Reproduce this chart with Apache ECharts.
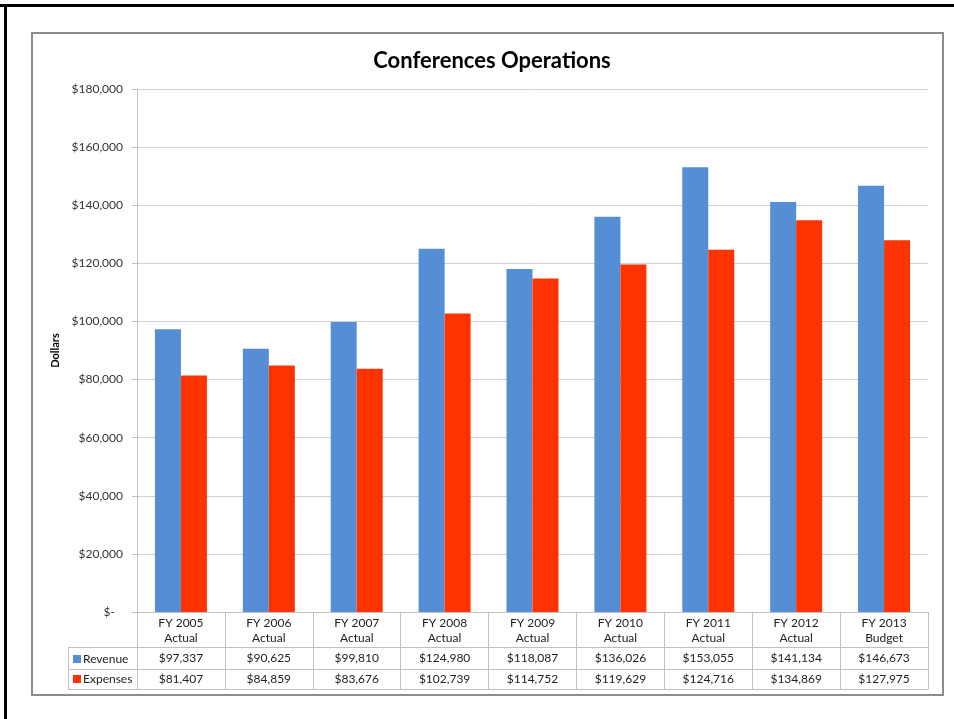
<!DOCTYPE html>
<html>
<head>
<meta charset="utf-8">
<script src="https://cdn.jsdelivr.net/npm/echarts@6/dist/echarts.min.js"></script>
<style>
  html, body { margin: 0; padding: 0; background: #fff; }
  #chart { width: 954px; height: 719px; }
</style>
</head>
<body>
<div id="chart"></div>
<script>
// data
var categories = ["FY 2005\nActual", "FY 2006\nActual", "FY 2007\nActual", "FY 2008\nActual",
    "FY 2009\nActual", "FY 2010\nActual", "FY 2011\nActual", "FY 2012\nActual", "FY 2013\nBudget"];
var revenue = [97337, 90625, 99810, 124980, 118087, 136026, 153055, 141134, 146673];
var expenses = [81407, 84859, 83676, 102739, 114752, 119629, 124716, 134869, 127975];
var yTicks = [0, 20000, 40000, 60000, 80000, 100000, 120000, 140000, 160000, 180000];

var font = "Lato, 'Open Sans', sans-serif";
var tableLine = "#c0c0c0";

function money(v) {
    return "$" + v.toLocaleString("en-US");
}

var myChart = echarts.init(document.getElementById("chart"), null, {
    width: 954,
    height: 719,
});

var option = {
    animation: false,
    color: ["#558ed5", "#ff3300"],
    textStyle: { fontFamily: font },
    title: {
        text: "Conferences Operations",
        left: 487,
        top: 45,
        textAlign: "center",
        textStyle: { fontFamily: font, fontSize: 22, fontWeight: "bold", color: "#000" },
    },
    legend: {
        orient: "vertical",
        left: 68,
        top: 648,
        itemWidth: 8,
        itemHeight: 8,
        itemGap: 8,
        icon: "rect",
        textStyle: { fontFamily: font, fontSize: 12, color: "#222", padding: [0, 0, 0, -3] },
        data: ["Revenue", "Expenses"],
    },
    grid: {
        left: 137,
        right: 26,
        top: 89,
        bottom: 107,
    },
    xAxis: [
        {
            type: "category",
            data: categories,
            axisLine: { lineStyle: { color: tableLine } },
            axisTick: { show: true, length: 77, lineStyle: { color: tableLine } },
            axisLabel: { margin: 4, fontSize: 12, lineHeight: 15, color: "#222", fontFamily: font, interval: 0 },
        },
        {
            type: "category",
            position: "bottom",
            offset: 35,
            data: revenue.map(money),
            axisLine: { lineStyle: { color: tableLine } },
            axisTick: { show: false },
            axisLabel: { margin: 5, fontSize: 12, color: "#222", fontFamily: font, interval: 0 },
        },
        {
            type: "category",
            position: "bottom",
            offset: 57,
            data: expenses.map(money),
            axisLine: { lineStyle: { color: tableLine } },
            axisTick: { show: false },
            axisLabel: { margin: 4, fontSize: 12, color: "#222", fontFamily: font, interval: 0 },
        },
        {
            type: "category",
            position: "bottom",
            offset: 77,
            data: categories,
            axisLine: { lineStyle: { color: tableLine } },
            axisTick: { show: false },
            axisLabel: { show: false },
        },
    ],
    yAxis: {
        type: "value",
        min: yTicks[0],
        max: yTicks[yTicks.length - 1],
        interval: 20000,
        name: "Dollars",
        nameLocation: "middle",
        nameRotate: 90,
        nameGap: 75,
        nameTextStyle: { fontFamily: font, fontSize: 11, fontWeight: "bold", color: "#000" },
        axisLine: { show: true, lineStyle: { color: tableLine } },
        axisTick: { show: true, length: 5, lineStyle: { color: tableLine } },
        splitLine: { lineStyle: { color: "#d0d0d0" } },
        axisLabel: {
            margin: 14,
            fontSize: 12,
            color: "#333",
            fontFamily: font,
            formatter: function (v) {
                return v === 0 ? "{z|$-}" : money(v);
            },
            rich: { z: { fontSize: 12, color: "#333", fontFamily: font, padding: [0, 8, 0, 0] } },
        },
    },
    graphic: [
        { type: "rect", shape: { x: 0, y: 4, width: 954, height: 3 }, style: { fill: "#000" } },
        { type: "rect", shape: { x: 4, y: 4, width: 3, height: 715 }, style: { fill: "#000" } },
        { type: "rect", shape: { x: 32, y: 33, width: 911, height: 662 }, style: { fill: null, stroke: "#8c8c8c", lineWidth: 2 } },
        { type: "line", shape: { x1: 68, y1: 647.5, x2: 137, y2: 647.5 }, style: { stroke: tableLine } },
        { type: "line", shape: { x1: 68, y1: 669.5, x2: 137, y2: 669.5 }, style: { stroke: tableLine } },
        { type: "line", shape: { x1: 68, y1: 689.5, x2: 137, y2: 689.5 }, style: { stroke: tableLine } },
        { type: "line", shape: { x1: 68.5, y1: 647, x2: 68.5, y2: 690 }, style: { stroke: tableLine } },
    ],
    series: [
        {
            name: "Revenue",
            type: "bar",
            xAxisIndex: 0,
            data: revenue,
            barWidth: 26,
            barGap: "0%",
        },
        {
            name: "Expenses",
            type: "bar",
            xAxisIndex: 0,
            data: expenses,
            barWidth: 26,
            barGap: "0%",
        },
    ],
};
myChart.setOption(option);
</script>
</body>
</html>
